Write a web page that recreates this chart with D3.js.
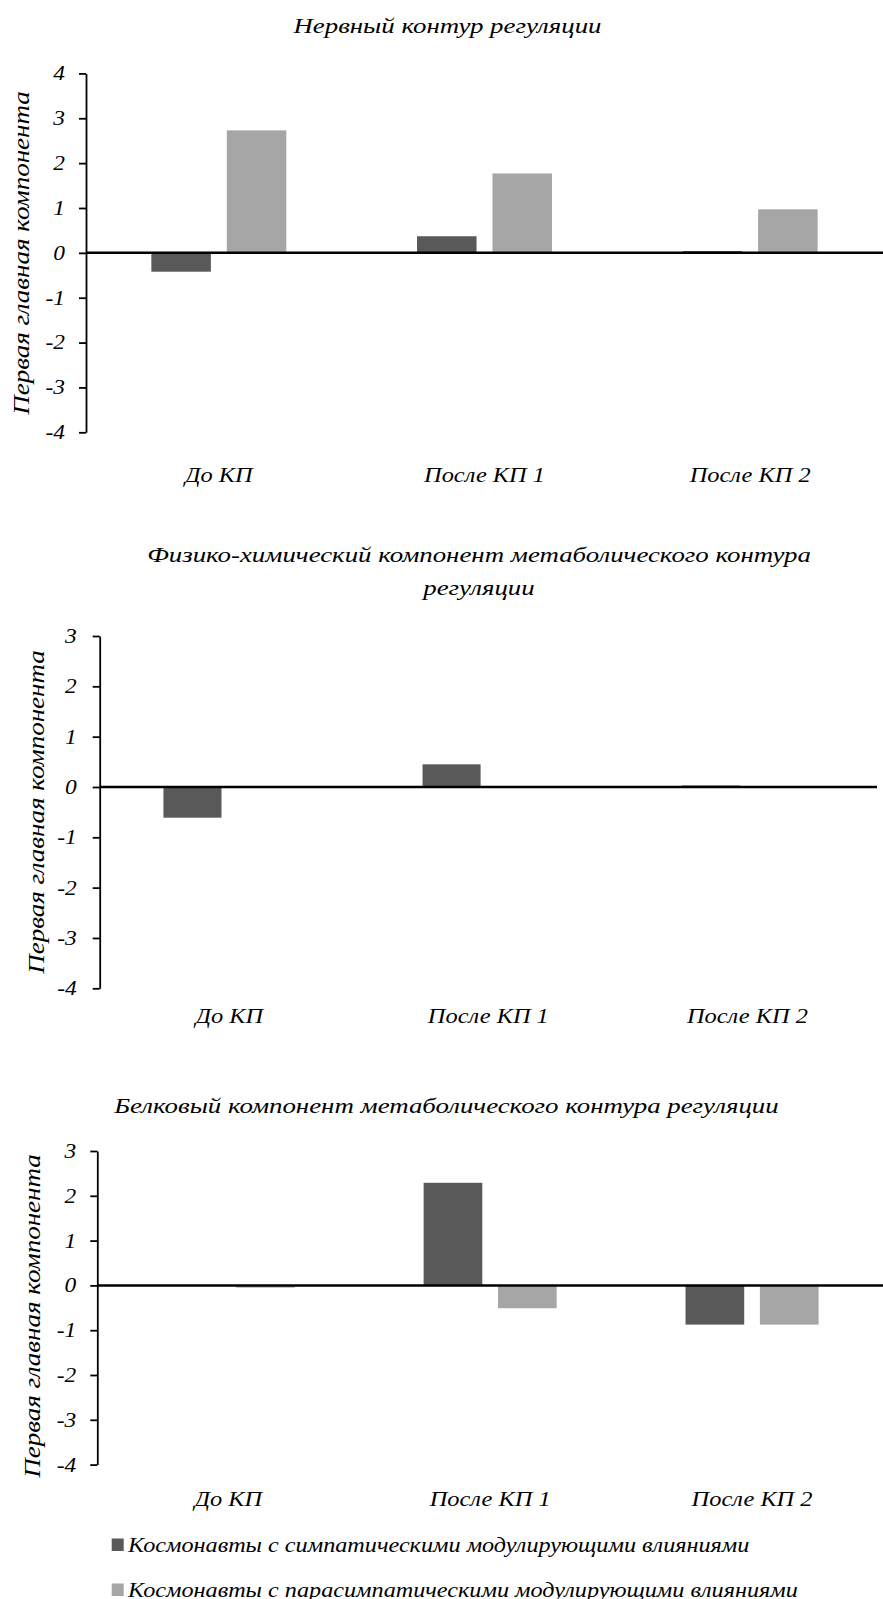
<!DOCTYPE html>
<html>
<head>
<meta charset="utf-8">
<script src="https://cdn.jsdelivr.net/npm/d3@7"></script>
<style>
  html, body { margin: 0; padding: 0; background: #ffffff; }
  svg { display: block; }
  text { font-family: "Liberation Serif", "Times New Roman", serif; font-style: italic; fill: #000; }
</style>
</head>
<body>
<svg id="chart" width="883" height="1599"></svg>
<script>
// ---- data ----
const categories = ["До КП", "После КП 1", "После КП 2"];
const seriesNames = [
  "Космонавты с симпатическими модулирующими влияниями",
  "Космонавты с парасимпатическими модулирующими влияниями"
];
const titles = [
  ["Нервный контур регуляции"],
  ["Физико-химический компонент метаболического контура", "регуляции"],
  ["Белковый компонент метаболического контура регуляции"]
];
const yAxisTitle = "Первая главная компонента";
const nervSymp = [-0.42, 0.37, 0.04];
const nervPara = [2.73, 1.77, 0.97];
const physSymp = [-0.61, 0.45, 0.03];
const physPara = [0, 0, 0];
const protSymp = [0.01, 2.29, -0.875];
const protPara = [-0.05, -0.51, -0.875];
const ticksNerv = [4, 3, 2, 1, 0, -1, -2, -3, -4];
const ticksMeta = [3, 2, 1, 0, -1, -2, -3, -4];

// ---- layout (positions/styles) ----
const colors = ["#595959", "#a6a6a6"];
const panels = [
  { symp: nervSymp, para: nervPara, ticks: ticksNerv, title: titles[0],
    axisX: 86, right: 883, yTop: 73.4, yBot: 432.3, tickPad: 14,
    titleX: 447.5, titleY: [33], catY: 481.7, labX: 29, labY: 253 },
  { symp: physSymp, para: physPara, ticks: ticksMeta, title: titles[1],
    axisX: 99.7, right: 877, yTop: 636, yBot: 988.3, tickPad: 16,
    titleX: 479, titleY: [561.7, 595], catY: 1023, labX: 44, labY: 812 },
  { symp: protSymp, para: protPara, ticks: ticksMeta, title: titles[2],
    axisX: 97.3, right: 883, yTop: 1151, yBot: 1464.6, tickPad: 14,
    titleX: 446.5, titleY: [1113], catY: 1506, labX: 40, labY: 1316 }
];

const svg = d3.select("#chart");
svg.append("rect").attr("width", 883).attr("height", 1599).attr("fill", "#fff");

function stretch(sel, k) {
  sel.each(function () {
    const len = this.getComputedTextLength();
    if (len > 0) {
      d3.select(this).attr("textLength", len * k).attr("lengthAdjust", "spacingAndGlyphs");
    }
  });
}

panels.forEach(p => {
  const g = svg.append("g");
  const y = d3.scaleLinear()
    .domain([d3.min(p.ticks), d3.max(p.ticks)])
    .range([p.yBot, p.yTop]);
  const x0 = d3.scaleBand().domain(categories).range([p.axisX, p.right]).padding(0);
  const bw = x0.bandwidth();
  const x1 = d3.scaleBand().domain([0, 1])
    .range([bw * (0.5 - 0.254), bw * (0.5 + 0.254)])
    .paddingInner(0.211).paddingOuter(0);

  // bars
  const rows = categories.map((c, i) => ({ c, vals: [p.symp[i], p.para[i]] }));
  const grp = g.selectAll("g.cat").data(rows).join("g")
    .attr("transform", d => `translate(${x0(d.c)},0)`);
  grp.selectAll("rect").data(d => d.vals.map((v, s) => ({ v, s })))
    .join("rect")
    .attr("x", d => x1(d.s))
    .attr("width", x1.bandwidth())
    .attr("y", d => Math.min(y(0), y(d.v)))
    .attr("height", d => Math.abs(y(d.v) - y(0)))
    .attr("fill", d => colors[d.s]);

  // y axis
  const ax = g.append("g")
    .attr("transform", `translate(${p.axisX},0)`)
    .call(d3.axisLeft(y).tickValues(p.ticks).tickSize(7).tickSizeOuter(0)
      .tickPadding(p.tickPad).tickFormat(d => String(d)));
  ax.select(".domain").attr("stroke", "#000").attr("stroke-width", 1.8);
  ax.selectAll(".tick line").attr("stroke", "#000").attr("stroke-width", 1.8);
  ax.selectAll(".tick text")
    .attr("font-family", "Liberation Serif, Times New Roman, serif")
    .attr("font-style", "italic")
    .attr("font-size", 20).attr("fill", "#000");
  stretch(ax.selectAll(".tick text"), 1.17);

  // zero line
  g.append("line")
    .attr("x1", p.axisX).attr("x2", p.right)
    .attr("y1", y(0)).attr("y2", y(0))
    .attr("stroke", "#000").attr("stroke-width", 2.5);

  // category labels
  const cl = g.selectAll("text.cat").data(categories).join("text")
    .attr("class", "cat")
    .attr("x", d => x0(d) + bw / 2)
    .attr("y", p.catY)
    .attr("text-anchor", "middle")
    .attr("font-size", 20)
    .text(d => d);
  stretch(cl, 1.22);

  // title
  const tl = g.selectAll("text.title").data(p.title).join("text")
    .attr("class", "title")
    .attr("x", p.titleX)
    .attr("y", (d, i) => p.titleY[i])
    .attr("text-anchor", "middle")
    .attr("font-size", 22)
    .text(d => d);
  stretch(tl, 1.22);

  // y axis title
  const yl = g.append("text")
    .attr("transform", `translate(${p.labX},${p.labY}) rotate(-90)`)
    .attr("text-anchor", "middle")
    .attr("font-size", 24)
    .text(yAxisTitle);
  stretch(yl, 1.126);
});

// legend
const leg = svg.append("g");
const legRows = leg.selectAll("g").data(seriesNames).join("g")
  .attr("transform", (d, i) => `translate(111.7,${1551.5 + i * 45})`);
legRows.append("rect")
  .attr("x", 0).attr("y", -13).attr("width", 12).attr("height", 12.5)
  .attr("fill", (d, i) => colors[i]);
const lt = legRows.append("text")
  .attr("x", 16.3).attr("y", 0)
  .attr("font-size", 20)
  .text(d => d);
stretch(lt, 1.21);
</script>
</body>
</html>
